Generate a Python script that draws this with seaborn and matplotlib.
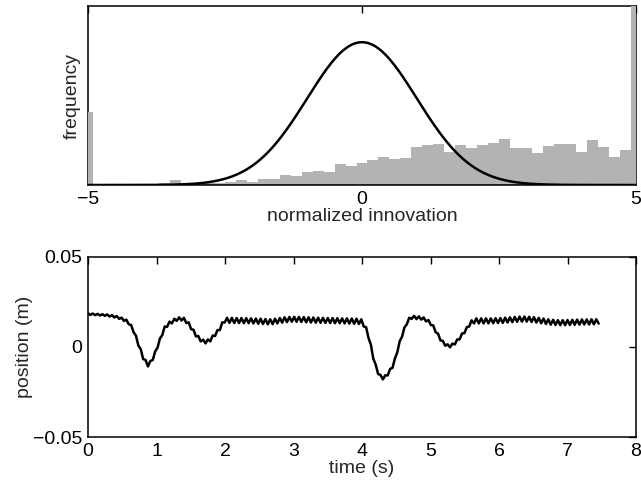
import numpy as np
import pandas as pd
import seaborn as sns
import matplotlib
matplotlib.use('Agg')
import matplotlib.pyplot as plt

# histogram of normalized innovations (bin centres -5..5, step 0.2)
bin_centers = np.round(np.arange(-5, 5.01, 0.2), 1)
bin_heights = [0.205, 0.0, 0.0, 0.003, 0.003, 0.0, 0.003, 0.006, 0.014, 0.004,
               0.004, 0.005, 0.005, 0.0075, 0.014, 0.0075, 0.017, 0.017, 0.028, 0.025,
               0.036, 0.039, 0.036, 0.059, 0.053, 0.061, 0.070, 0.077, 0.073, 0.076,
               0.106, 0.112, 0.115, 0.091, 0.111, 0.104, 0.112, 0.116, 0.128, 0.104,
               0.104, 0.090, 0.109, 0.115, 0.115, 0.092, 0.126, 0.106, 0.078, 0.098,
               0.62]

# position trace, sampled every 0.035 s
time_s = np.round(np.arange(214) * 0.035, 3)
position = [0.0187, 0.0178, 0.0186, 0.0177, 0.0184, 0.0175, 0.0182, 0.0173, 0.0181, 0.0169,
            0.0177, 0.0164, 0.0172, 0.0156, 0.0163, 0.0145, 0.0152, 0.0126, 0.0122, 0.0082,
            0.0063, 0.0008, -0.0012, -0.0067, -0.0072, -0.0108, -0.0078, -0.0072, -0.0025, -0.0004,
            0.0047, 0.0067, 0.0114, 0.0112, 0.0141, 0.0131, 0.0157, 0.0145, 0.0165, 0.0147,
            0.0162, 0.0133, 0.0137, 0.0099, 0.0096, 0.0059, 0.0061, 0.0031, 0.0041, 0.0020,
            0.0042, 0.0031, 0.0064, 0.0061, 0.0094, 0.0094, 0.0137, 0.0136, 0.0162, 0.0134,
            0.0162, 0.0133, 0.0161, 0.0133, 0.0161, 0.0132, 0.0160, 0.0132, 0.0159, 0.0131,
            0.0158, 0.0129, 0.0157, 0.0128, 0.0155, 0.0126, 0.0154, 0.0127, 0.0157, 0.0131,
            0.0161, 0.0135, 0.0165, 0.0138, 0.0167, 0.0140, 0.0168, 0.0140, 0.0167, 0.0139,
            0.0166, 0.0137, 0.0165, 0.0136, 0.0164, 0.0135, 0.0163, 0.0134, 0.0162, 0.0134,
            0.0161, 0.0133, 0.0161, 0.0132, 0.0160, 0.0132, 0.0159, 0.0131, 0.0159, 0.0130,
            0.0158, 0.0129, 0.0157, 0.0128, 0.0154, 0.0114, 0.0110, 0.0050, 0.0012, -0.0065,
            -0.0098, -0.0150, -0.0155, -0.0180, -0.0157, -0.0158, -0.0122, -0.0116, -0.0064, -0.0030,
            0.0032, 0.0058, 0.0109, 0.0127, 0.0163, 0.0156, 0.0173, 0.0155, 0.0170, 0.0152,
            0.0164, 0.0142, 0.0150, 0.0122, 0.0120, 0.0082, 0.0074, 0.0037, 0.0034, 0.0007,
            0.0015, -0.0002, 0.0019, 0.0014, 0.0042, 0.0042, 0.0075, 0.0077, 0.0110, 0.0114,
            0.0148, 0.0131, 0.0159, 0.0131, 0.0159, 0.0131, 0.0159, 0.0131, 0.0159, 0.0132,
            0.0160, 0.0133, 0.0161, 0.0134, 0.0163, 0.0136, 0.0165, 0.0138, 0.0167, 0.0140,
            0.0169, 0.0141, 0.0169, 0.0141, 0.0168, 0.0139, 0.0166, 0.0136, 0.0162, 0.0132,
            0.0158, 0.0128, 0.0154, 0.0124, 0.0151, 0.0122, 0.0149, 0.0121, 0.0149, 0.0121,
            0.0150, 0.0122, 0.0151, 0.0123, 0.0152, 0.0124, 0.0153, 0.0125, 0.0153, 0.0125,
            0.0154, 0.0126, 0.0154, 0.0130]

sns.set_style('white')
plt.rcParams['font.family'] = ['Liberation Sans', 'DejaVu Sans']
plt.rcParams['font.size'] = 14

fig = plt.figure(figsize=(6.41, 4.88), dpi=100)
ax1 = fig.add_axes([0.1373, 0.6209, 0.8549, 0.3668])
ax2 = fig.add_axes([0.1373, 0.1045, 0.8549, 0.3689])

# top: histogram + unit gaussian
hist_df = pd.DataFrame({'innov': bin_centers, 'freq': bin_heights})
sns.histplot(data=hist_df, x='innov', weights='freq', bins=51, binrange=(-5.1, 5.1),
             color='#b3b3b3', alpha=1, linewidth=0, ax=ax1)
for p in ax1.patches:
    p.set_zorder(3)
xs = np.linspace(-5, 5, 400)
gauss = np.exp(-xs ** 2 / 2) / np.sqrt(2 * np.pi)
sns.lineplot(x=xs, y=gauss, color='black', linewidth=1.8, ax=ax1, zorder=5)
ax1.axhline(0, color='black', linewidth=1.2, zorder=4)
ax1.set_xlim(-5, 5)
ax1.set_ylim(0, 0.5)
ax1.set_xticks([-5, 0, 5])
ax1.set_yticks([])
ax1.set_xlabel('normalized innovation', labelpad=0)
ax1.set_ylabel('frequency', labelpad=5)

# bottom: position over time
df = pd.DataFrame({'t': time_s, 'pos': position})
sns.lineplot(data=df, x='t', y='pos', color='black', linewidth=1.8, ax=ax2)
ax2.set_xlim(0, 8)
ax2.set_ylim(-0.05, 0.05)
ax2.set_xticks(range(0, 9))
ax2.set_yticks([-0.05, 0, 0.05])
ax2.set_yticklabels(['\u22120.05', '0', '0.05'])
ax2.set_xlabel('time (s)', labelpad=0)
ax2.set_ylabel('position (m)', labelpad=0)

for ax in (ax1, ax2):
    for s in ax.spines.values():
        s.set_linewidth(1.1)
        s.set_color('black')
    ax.tick_params(direction='in', top=True, right=True, length=5, width=1.0,
                   pad=4, labelsize=14, colors='black')

fig.savefig('out.png', dpi=100)
